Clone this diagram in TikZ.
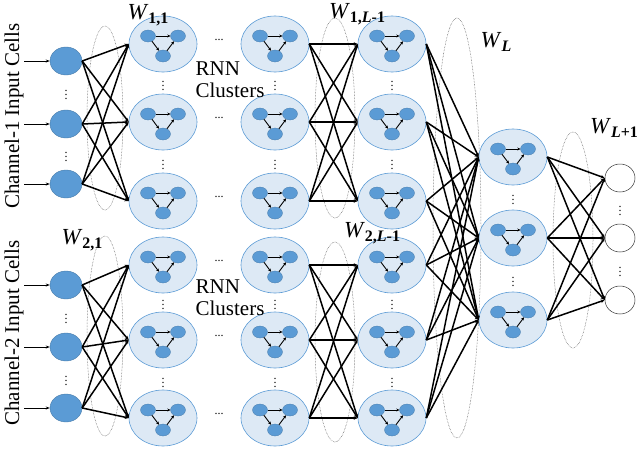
\documentclass[tikz,border=0pt]{standalone}
\usepackage{fontspec}
\setmainfont{Liberation Serif}
\usetikzlibrary{shapes.geometric,arrows.meta}
\definecolor{cfill}{HTML}{DDE9F5}
\definecolor{cblue}{HTML}{5B9BD5}
\begin{document}
\begin{tikzpicture}[x=1pt,y=-1pt,
  clu/.style={ellipse,draw=cblue,fill=cfill,line width=0.6pt,minimum width=68pt,minimum height=56pt,inner sep=0},
  sm/.style={ellipse,fill=cblue,draw=cblue!80!black,line width=0.3pt,minimum width=15pt,minimum height=12pt,inner sep=0},
  inp/.style={ellipse,fill=cblue,draw=cblue!80!black,minimum width=32pt,minimum height=28pt,inner sep=0},
  outc/.style={ellipse,draw=black!80,line width=0.5pt,minimum width=30pt,minimum height=28pt,inner sep=0},
  con/.style={line width=1.5pt,-{Stealth[length=4pt,width=3.5pt]}},
  ia/.style={line width=0.9pt,-{Stealth[length=4pt,width=3pt]}},
  ina/.style={line width=0.9pt,-{Stealth[length=3pt,width=3pt]}},
  wt/.style={draw=black!70,densely dotted,line width=0.5pt},
  lab/.style={font=\fontsize{23}{24}\selectfont},
  txt/.style={font=\fontsize{21}{22}\selectfont},
  dt/.style={font=\fontsize{12}{12}\selectfont}]
\useasboundingbox (0,0) rectangle (640,458);
% weight ellipses
\draw[wt] (105,118) ellipse (18 and 92);
\draw[wt] (105,336) ellipse (18 and 100);
\draw[wt] (335,118) ellipse (20 and 100);
\draw[wt] (335,342) ellipse (20 and 100);
\draw[wt] (457,228) ellipse (24 and 210);
\draw[wt] (573,240) ellipse (20 and 108);
% clusters
\newcommand{\mkclu}[3]{%
  \node[clu] (#1) at (#2,#3) {};
  \node[sm] (#1a) at (#2-15,#3-8) {};
  \node[sm] (#1b) at (#2+15,#3-8) {};
  \node[sm] (#1c) at (#2,#3+12) {};
  \draw[{Stealth[length=3pt]}-{Stealth[length=3pt]},ina] (#1a) -- (#1b);
  \draw[ina] (#1a) -- (#1c);
  \draw[ina] (#1c) -- (#1b);}
\foreach \i/\y in {1/44,2/122,3/201,4/265,5/340,6/418}{
  \mkclu{p\i}{163}{\y}
  \mkclu{q\i}{275}{\y}
  \mkclu{r\i}{392}{\y}
  \node[dt] (d\i) at (219,\y-4) {...};
}
\foreach \i/\y in {1/157,2/238,3/320}{ \mkclu{s\i}{513}{\y} }
% inputs
\foreach \i/\y in {1/61,2/124,3/184,4/285,5/347,6/408}{
  \node[inp] (in\i) at (66,\y) {};
  \coordinate (a\i) at (24,\y);
  \draw[ia] (a\i) -- (in\i);
}
\foreach \i/\y in {1/178,2/238,3/300}{ \node[outc] (o\i) at (620,\y) {}; }
% connections
\foreach \a in {1,2,3}{\foreach \b in {1,2,3}{\draw[con] (in\a.east) -- (p\b.west);\draw[con] (q\a.east) -- (r\b.west);}}
\foreach \a in {4,5,6}{\foreach \b in {4,5,6}{\draw[con] (in\a.east) -- (p\b.west);\draw[con] (q\a.east) -- (r\b.west);}}
\foreach \a in {1,...,6}{\foreach \b in {1,2,3}{\draw[con] (r\a.east) -- (s\b.west);}}
\foreach \a in {1,2,3}{\foreach \b in {1,2,3}{\draw[con] (s\a.east) -- (o\b.west);}}
% vertical dots
\foreach \x/\y in {66/92,66/154,66/316,66/378,163/83,163/162,163/302,163/380,275/83,275/162,275/302,275/380,392/83,392/162,392/302,392/380,513/197,513/279,620/208,620/269}{
  \node[font=\fontsize{12}{12}\selectfont,inner sep=0] at (\x,\y) {$\vdots$};}
% labels
\newcommand{\wsub}[1]{\textit{W}\textbf{\raisebox{-4pt}{\fontsize{16}{16}\selectfont #1}}}
\node[lab] (w11) at (148,15) {\wsub{1,1}};
\node[lab] (w21) at (82,240) {\wsub{2,1}};
\node[lab] (w1l) at (357,14) {\wsub{1,\textit{L}-1}};
\node[lab] (w2l) at (372,233) {\wsub{2,\textit{L}-1}};
\node[lab] (wl) at (496,42) {\wsub{\textit{L}}};
\node[lab] (wl1) at (614,128) {\wsub{\textit{L}+1}};
\node[txt,align=left] (rnn1) at (230,80) {RNN\\Clusters};
\node[txt,align=left] (rnn2) at (230,298) {RNN\\Clusters};
\node[txt,rotate=90] (ch1) at (14,116) {Channel-1 Input Cells};
\node[txt,rotate=90] (ch2) at (14,333) {Channel-2 Input Cells};
\end{tikzpicture}
\end{document}
